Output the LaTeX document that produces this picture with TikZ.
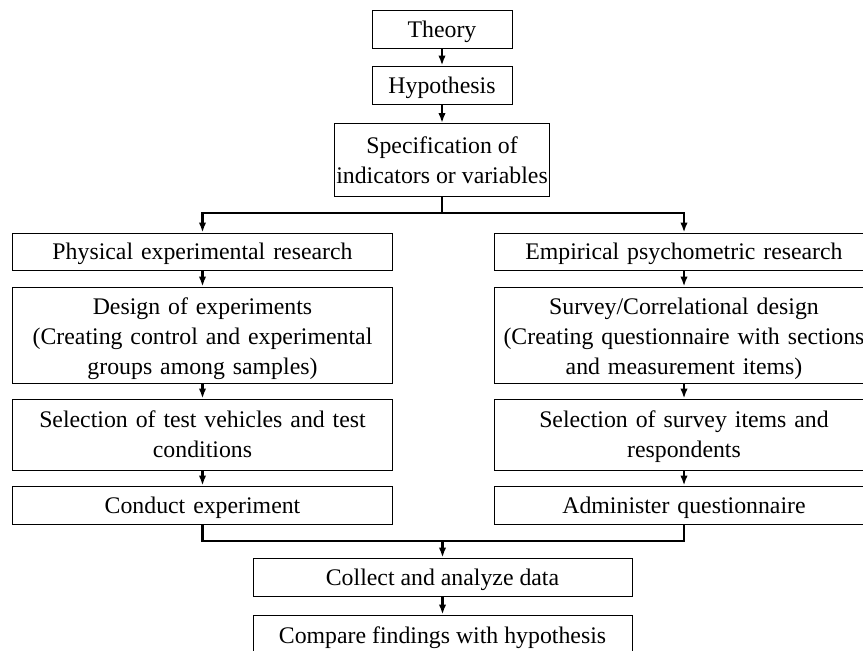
\documentclass[tikz,border=0pt]{standalone}
\usepackage{fontspec}
\setmainfont{Liberation Serif}
\usetikzlibrary{arrows.meta}
\begin{document}
\begin{tikzpicture}[x=1pt,y=-1pt,
  box/.style={draw, line width=1pt, align=center, inner sep=2pt,
    font=\fontsize{23.8}{30}\selectfont},
  lines/.style={text depth=#1},
  small/.style={box, minimum width=140pt, minimum height=38pt},
  col/.style={box, minimum width=380pt, text width=376pt},
  conn/.style={line width=2.4pt, -{Latex[length=10pt,width=7.5pt]}},
  link/.style={line width=2.4pt}]
\useasboundingbox (0,0) rectangle (863,651);
\clip (0,0) rectangle (863,651);

% common trunk
\node[small, lines=0pt] (theory) at (442,29) {Theory};
\node[small, lines=0pt] (hyp) at (442,85) {Hypothesis};
\node[box, minimum width=208pt, minimum height=73pt] (spec) at (442,160)
  {Specification of\\indicators or variables};

% left column
\node[col, lines=0pt, minimum height=37pt] (phys) at (202.5,251.5) {Physical experimental research};
\node[col, lines=58pt, minimum height=96pt] (design) at (202.5,335)
  {Design of experiments\\(Creating control and experimental\\groups among samples)};
\node[col, lines=30pt, minimum height=71pt] (selL) at (202.5,434.5)
  {Selection of test vehicles and test\\conditions};
\node[col, lines=0pt, minimum height=38pt] (conduct) at (202.5,505) {Conduct experiment};

% right column
\node[col, lines=0pt, minimum height=37pt] (emp) at (684,251.5) {Empirical psychometric research};
\node[col, lines=58pt, minimum height=96pt] (survey) at (684,335)
  {Survey/Correlational design\\(Creating questionnaire with sections\\and measurement items)};
\node[col, lines=30pt, minimum height=71pt] (selR) at (684,434.5)
  {Selection of survey items and\\respondents};
\node[col, lines=0pt, minimum height=38pt] (admin) at (684,505) {Administer questionnaire};

% closing steps
\node[box, lines=0pt, minimum width=379pt, minimum height=38pt] (collect) at (442.5,577)
  {Collect and analyze data};
\node[box, lines=0pt, minimum width=379pt, minimum height=40pt] (compare) at (442.5,635)
  {Compare findings with hypothesis};

% connectors
\draw[conn] (theory) -- (hyp);
\draw[conn] (hyp) -- (spec);
\coordinate (split) at (442,213);
\draw[link] (spec.south) -- (split);
\draw[conn] (split) -| (phys.north);
\draw[conn] (split) -| (emp.north);
\draw[conn] (phys) -- (design);
\draw[conn] (design) -- (selL);
\draw[conn] (selL) -- (conduct);
\draw[conn] (emp) -- (survey);
\draw[conn] (survey) -- (selR);
\draw[conn] (selR) -- (admin);
\coordinate (merge) at (442.5,541);
\draw[link] (conduct.south) |- (merge) -| (admin.south);
\draw[conn] (merge) -- (collect.north);
\draw[conn] (collect) -- (compare);
\end{tikzpicture}
\end{document}
